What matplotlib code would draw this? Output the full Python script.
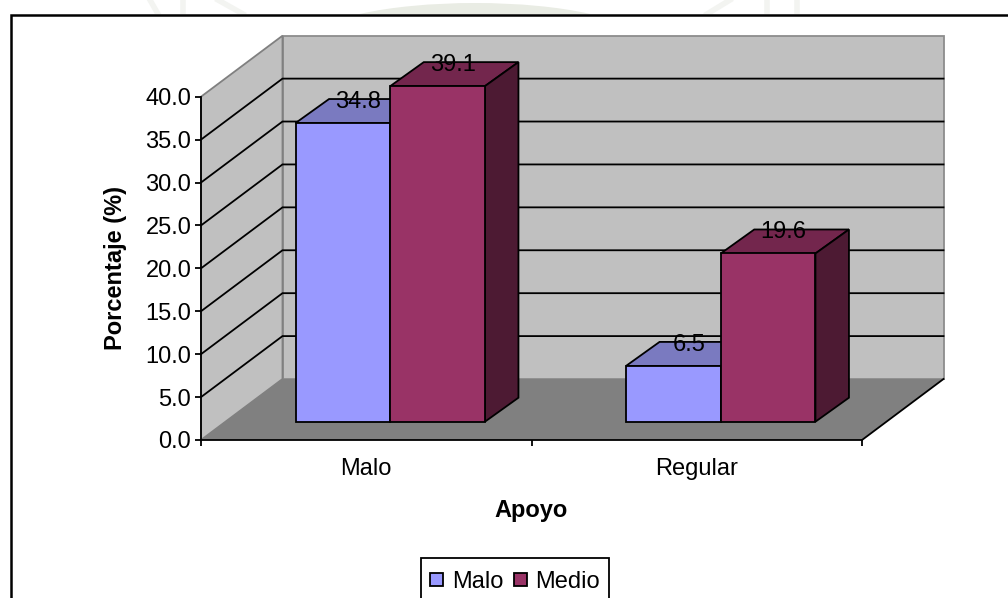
#!/usr/bin/env python3
# Grouped pseudo-3D bars of Apoyo vs percentage, drawn with plain 2D patches.

import matplotlib
matplotlib.use('Agg')
import matplotlib.pyplot as plt
from matplotlib.patches import Polygon, Rectangle, Ellipse
from matplotlib.transforms import blended_transform_factory

categories = ['Malo', 'Regular']
series_names = ['Malo', 'Medio']
malo_values = [34.8, 6.5]
medio_values = [39.1, 19.6]
y_ticks = [0, 5, 10, 15, 20, 25, 30, 35, 40]
y_tick_labels = ['0.0', '5.0', '10.0', '15.0', '20.0', '25.0', '30.0', '35.0', '40.0']

W, H = 1008, 598
FS = 17
plt.rcParams['font.family'] = ['Liberation Sans', 'DejaVu Sans']

fig = plt.figure(figsize=(W / 100, H / 100), dpi=100)

# page layer under the chart: faint seal in the top margin
bg = fig.add_axes([0, 0, 1, 1], zorder=0)
bg.set_xlim(0, W)
bg.set_ylim(H, 0)
bg.axis('off')
margin = Rectangle((0, 0), W, 14, transform=bg.transData)
seal = Ellipse((475, 40), 324, 74, facecolor='#e9ece4', edgecolor='none')
bg.add_patch(seal)
seal.set_clip_path(margin)
for xs, ys in [([218, 243], [0, 14]), ([183, 183], [0, 14]), ([150, 158], [0, 14]),
               ([730, 707], [0, 14]), ([767, 767], [0, 14]), ([797, 797], [0, 14])]:
    stroke, = bg.plot(xs, ys, color='#f3f4f1', lw=4)
    stroke.set_clip_path(margin)

# axes box is the front face of the plot: x 201..862 px, y 96.7..440 px
ax = fig.add_axes([201 / W, 1 - 440 / H, 661 / W, 343.3 / H], zorder=1)
ax.set_xlim(0, len(categories))
ax.set_ylim(0, 40)
ax.patch.set_visible(False)

px_x = len(categories) / 661
px_y = 40 / 343.3
depth_x = 81.5 * px_x
depth_y = 61 * px_y
# bars sit partway into the floor
base_x = 24 * px_x
base_y = 18.3 * px_y
bar_w = 94.7 * px_x
bar_dx = 33.5 * px_x
bar_dy = 24 * px_y


def poly(points, face, edge='none', lw=0.0, z=1):
    ax.add_patch(Polygon(points, closed=True, facecolor=face, edgecolor=edge,
                         linewidth=lw, zorder=z, clip_on=False, joinstyle='miter'))


xmax = len(categories)
wall_gray = '#c0c0c0'
floor_gray = '#808080'

# back wall, side wall and floor
poly([(depth_x, depth_y), (xmax + depth_x, depth_y),
      (xmax + depth_x, 40 + depth_y), (depth_x, 40 + depth_y)],
     wall_gray, '#8c8c8c', 1.3)
poly([(0, 0), (depth_x, depth_y), (depth_x, 40 + depth_y), (0, 40)],
     wall_gray, '#808080', 1.3)
poly([(0, 0), (xmax, 0), (xmax + depth_x, depth_y), (depth_x, depth_y)],
     floor_gray, z=1.5)

# gridlines run along both walls
for t in y_ticks[1:-1]:
    ax.plot([0, depth_x, xmax + depth_x], [t, t + depth_y, t + depth_y],
            color='black', lw=1.3, zorder=2, clip_on=False, solid_joinstyle='miter')
ax.plot([xmax, xmax + depth_x], [0, depth_y], color='black', lw=1.3,
        zorder=2, clip_on=False)

series_faces = [('#9999ff', '#7a7ac0', '#4d4d80'), ('#993366', '#73264d', '#4d1a33')]
series_vals = [malo_values, medio_values]

for i in range(len(categories)):
    center = i + 0.5 + base_x
    for j, vals in enumerate(series_vals):
        front, top, side = series_faces[j]
        x0 = center + (j - 1) * bar_w
        x1 = x0 + bar_w
        y0 = base_y
        y1 = base_y + vals[i]
        z = 3 + j
        poly([(x0, y1), (x1, y1), (x1 + bar_dx, y1 + bar_dy), (x0 + bar_dx, y1 + bar_dy)],
             top, 'black', 1.3, z)
        poly([(x1, y0), (x1 + bar_dx, y0 + bar_dy), (x1 + bar_dx, y1 + bar_dy), (x1, y1)],
             side, 'black', 1.3, z)
        poly([(x0, y0), (x1, y0), (x1, y1), (x0, y1)], front, 'black', 1.3, z)
        ax.text(x0 + bar_w / 2 + 15.5 * px_x, y1 + 21 * px_y, '%.1f' % vals[i],
                ha='center', va='center', fontsize=FS, color='black', zorder=6)

for side in ['top', 'right']:
    ax.spines[side].set_visible(False)
for side in ['left', 'bottom']:
    ax.spines[side].set_linewidth(1.3)
    ax.spines[side].set_zorder(5)

ax.set_yticks(y_ticks)
ax.set_yticklabels(y_tick_labels, fontsize=FS, va='center_baseline')
ax.set_xticks(range(len(categories) + 1))
ax.set_xticklabels([])
ax.tick_params(axis='both', length=4, width=1.3, color='black')
ax.tick_params(axis='y', pad=3)

trans = blended_transform_factory(ax.transData, fig.transFigure)
for i, name in enumerate(categories):
    ax.text(i + 0.5, 1 - 469 / H, name, transform=trans, ha='center', va='center',
            fontsize=FS)

fig.text(531 / W, 1 - 511 / H, 'Apoyo', ha='center', va='center', fontsize=FS,
         fontweight='bold')
fig.text(115.5 / W, 1 - 267.5 / H, 'Porcentaje (%)', rotation=90, ha='center', va='center',
         fontsize=FS, fontweight='bold')

# legend box, cut off by the lower edge of the figure
fa = fig.add_axes([0, 0, 1, 1], zorder=2)
fa.set_xlim(0, W)
fa.set_ylim(H, 0)
fa.axis('off')
fa.patch.set_visible(False)
fa.add_patch(Rectangle((420.5, 558), 188.5, 45, facecolor='white', edgecolor='black',
                       linewidth=1.3, clip_on=True))
for x_sw, x_txt, name, faces in [(430, 452, series_names[0], series_faces[0]),
                                 (514, 535, series_names[1], series_faces[1])]:
    fa.add_patch(Rectangle((x_sw, 573), 13, 13, facecolor=faces[0], edgecolor='black',
                           linewidth=1.3))
    fa.text(x_txt, 582, name, ha='left', va='center', fontsize=FS)

# outer frame, only top and left are on the page
fa.plot([10.5, 10.5, W], [H, 14.5, 14.5], color='black', lw=1.8,
        solid_joinstyle='miter', clip_on=True)

fig.savefig('out.png', dpi=100, facecolor='white')
